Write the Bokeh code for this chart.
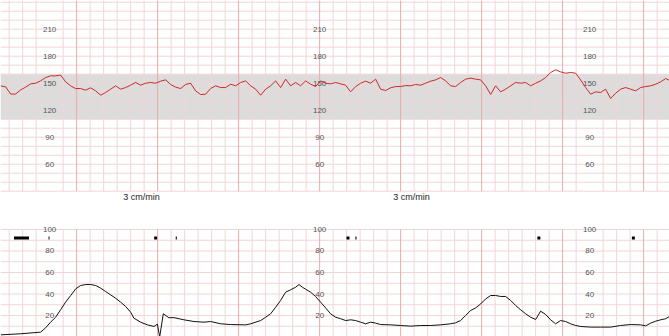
import numpy as np
from bokeh.plotting import figure
from bokeh.models import Range1d
from bokeh.embed import file_html
from bokeh.resources import INLINE
from bokeh.core.properties import value

# ---------------- data ----------------
# fetal heart rate, regularly sampled
fhr_start_s = 3.7
fhr_step_s = 3.7037
fhr_bpm = [
    147, 146, 138, 138, 142.6, 145.6, 149.3, 150, 152.6, 156.3,
    158.2, 158.2, 159, 151.5, 147.1, 144.1, 144.1, 142.3, 144.9, 141.5,
    136.7, 139.7, 143.4, 147.1, 143.4, 145.2, 147.8, 150.8, 147.8, 150,
    150.8, 150, 152.3, 153.7, 148.6, 145.6, 144.1, 148.6, 150, 141.5,
    137.4, 137.8, 144.1, 147.1, 145.2,
    145.2, 148.9, 147.1, 150.8, 152.6, 147.1, 143.4, 136.7, 143.4, 147.1,
    152.6, 145.2, 154.5, 147.1, 150.8, 147.1, 152.6, 148.9, 146.3, 152.6,
    150, 149.3, 150.8, 149.3, 147.8, 140.4, 146.3, 150, 152.3, 150,
    154.5, 143.4, 141.9, 144.9, 146.3, 146.3, 147.4, 147.1, 148.6, 147.8,
    150, 152.3, 153.7, 156.3, 152.6,
    147.1, 146.3, 150.8, 154.5, 155.6, 154.5, 153.7, 147.1, 137.5, 147.1,
    140.4, 143.4, 147.1, 150.8, 150, 150.8, 147.1, 150, 152.6, 156.3,
    161.9, 164.9, 162.6, 161.1, 161.9, 161.1, 153.7, 145.2, 137.8, 140.4,
    139.7, 143.4, 133, 138.9, 143.4, 145.2, 143.4, 141.5, 145.2, 146.3,
    147.1, 148.9, 151.5, 155.2, 152.6,
]
fhr_time = [fhr_start_s + i * fhr_step_s for i in range(len(fhr_bpm))]

# uterine activity
ua_time = [
    3.7, 18.5, 33.3, 37.0, 40.7, 44.4, 48.1, 51.8, 55.6, 59.3,
    63.0, 66.7, 70.4, 74.1, 77.8, 81.5, 85.2, 88.9, 92.6, 96.3,
    100.0, 102.4, 107.4, 112.4, 117.3, 119.8, 121.5, 124.2, 128.4, 132.1,
    139.5, 146.9, 154.3, 159.3, 166.7, 174.1, 185.2, 188.9, 196.3, 200.0,
    203.7, 207.4, 211.1, 214.8, 218.5, 222.2, 224.7, 227.2, 229.6, 233.3,
    237.0, 240.7, 244.4, 248.1, 251.9, 255.6, 259.3, 263.0, 266.7, 270.4,
    274.1, 277.8, 281.5, 285.2, 292.6, 300.0, 307.4, 314.8, 322.2, 329.6,
    337.0, 340.7, 344.4, 348.1, 351.8, 355.6, 359.3, 363.0, 366.7, 370.4,
    374.1, 377.8, 381.5, 385.2, 388.9, 392.6, 396.3, 400.0, 403.7, 407.4,
    411.1, 414.8, 418.5, 422.2, 425.9, 429.6, 433.3, 440.7, 448.1, 455.6,
    462.9, 470.4, 477.8, 481.5, 485.2, 488.9, 492.6, 496.3, 499.3,
]
ua_value = [
    2, 3, 4.5, 8.5, 13.8, 18.4, 25.3, 32.4, 38.6, 44.8,
    47.9, 48.8, 48.8, 47.9, 45.4, 42.3, 39.2, 36.1, 32.4, 28.4,
    23.1, 17.5, 13.8, 11.3, 9.8, 12, 0, 21.6, 17.9, 18,
    16, 14.4, 13.8, 14.4, 12.3, 11.6, 11.3, 12.3, 15.3, 18.4,
    21.6, 27.7, 34, 41.7, 43.9, 46.3, 48.8, 46.3, 44.5, 41.7,
    37.7, 32.4, 27.1, 21.6, 18.4, 17, 15.3, 16, 15.3, 13.8,
    12.3, 13.8, 12.9, 11.6, 11.3, 10.7, 10.1, 10.7, 10.7, 11.3,
    12.3, 13.2, 15.3, 20, 24.6, 27.1, 30.8, 35.5, 38.6, 38.6,
    37.7, 37.7, 34, 29.3, 25.3, 21.6, 18.4, 16.3, 24, 21,
    16, 12.3, 15.3, 14.4, 12.3, 10.7, 9.8, 9.2, 9.2, 9.2,
    10.7, 11.6, 11.3, 10.4, 12.9, 14.7, 16, 17, 19.2,
]

# event marks (start / end time in s)
mark_start = [13.6, 39.2, 117.4, 133.4, 259.9, 266.5, 401.3, 471.3]
mark_end = [24.7, 39.9, 119.6, 134.2, 262.1, 267.3, 403.5, 473.5]

fhr_tick_labels = [60, 90, 120, 150, 180, 210]
ua_tick_labels = [20, 40, 60, 80, 100]
label_column_times = [40, 240, 440]
speed_label_times = [108, 308]
speed_label = "3 cm/min"
normal_band = (110, 160)

# ---------------- figure ----------------
PX_PER_S = 1.35
X0 = 3.6
X1 = X0 + 669 / PX_PER_S
p = figure(width=669, height=336, x_range=Range1d(X0, X1),
           y_range=Range1d(-131.4, 241.9), output_backend="svg",
           toolbar_location=None, min_border=0,
           x_axis_location=None, y_axis_location=None)
p.extra_y_ranges = {"ua": Range1d(0.47, 313.0)}
p.grid.visible = False
p.outline_line_color = None
p.background_fill_color = "white"
p.border_fill_color = "white"

MINOR = "#f1d6d6"
MAJOR = "#eaaaaa"

# normal band
p.quad(left=[X0], right=[X1], bottom=[normal_band[0]], top=[normal_band[1]],
       fill_color="#dcdcdc", line_color=None)

# grid: vertical lines
ts = np.arange(0, 510, 10)
skip = set(label_column_times) - {240}
minor_t = [float(t) for t in ts if t % 60 != 0 and t not in skip]
major_t = [float(t) for t in ts if t % 60 == 0]
hl_top = list(range(30, 250, 10))
hl_bot = list(range(0, 110, 10))
# top panel
p.segment(x0=[X0] * len(hl_top), x1=[X1] * len(hl_top), y0=hl_top, y1=hl_top,
          line_color=MINOR, line_width=1)
p.segment(x0=minor_t, x1=minor_t, y0=[30] * len(minor_t), y1=[250] * len(minor_t),
          line_color=MINOR, line_width=1)
p.segment(x0=major_t, x1=major_t, y0=[30] * len(major_t), y1=[250] * len(major_t),
          line_color=MAJOR, line_width=1)
# bottom panel
p.segment(x0=[X0] * len(hl_bot), x1=[X1] * len(hl_bot), y0=hl_bot, y1=hl_bot,
          line_color=MINOR, line_width=1, y_range_name="ua")
p.segment(x0=minor_t, x1=minor_t, y0=[0] * len(minor_t), y1=[100] * len(minor_t),
          line_color=MINOR, line_width=1, y_range_name="ua")
p.segment(x0=major_t, x1=major_t, y0=[0] * len(major_t), y1=[100] * len(major_t),
          line_color=MAJOR, line_width=1, y_range_name="ua")

# tick labels
fx, fy, ft = [], [], []
for t in label_column_times:
    for v in fhr_tick_labels:
        fx.append(t); fy.append(v); ft.append(str(v))
p.text(x=fx, y=fy, text=ft, text_align="center", text_baseline="middle",
       text_font=value("Liberation Sans"), text_font_size="8px", text_color="#555555")
ux, uy, ut = [], [], []
for t in label_column_times:
    for v in ua_tick_labels:
        ux.append(t); uy.append(v); ut.append(str(v))
p.text(x=ux, y=uy, text=ut, text_align="center", text_baseline="middle",
       text_font=value("Liberation Sans"), text_font_size="8px", text_color="#555555",
       y_range_name="ua")

# paper speed labels
p.text(x=speed_label_times, y=[23.3] * len(speed_label_times),
       text=[speed_label] * len(speed_label_times), text_align="center",
       text_baseline="middle", text_font=value("Liberation Sans"),
       text_font_size="9px", text_color="#222222")

# traces
p.line(fhr_time, fhr_bpm, line_color="#cc2a2a", line_width=1)
p.line(ua_time, ua_value, line_color="#111111", line_width=1, y_range_name="ua")

# event marks
p.quad(left=mark_start, right=mark_end, bottom=[90.7] * len(mark_start),
       top=[93.5] * len(mark_start), fill_color="black", line_color=None,
       y_range_name="ua")

open("out.html", "w").write(file_html(p, INLINE))
